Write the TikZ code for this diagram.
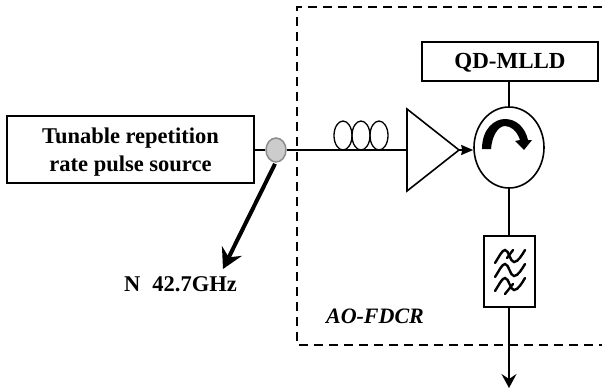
\documentclass[tikz,border=0pt]{standalone}
\usepackage{fontspec}
\setmainfont{Liberation Serif}
\usetikzlibrary{arrows.meta,shapes.geometric}

\tikzset{
    labelbox/.style={draw, line width=1.9pt, inner sep=0pt, align=center, font=\fontsize{22.5}{28}\selectfont\bfseries},
    coil/.style={draw, ellipse, line width=1.3pt, minimum width=18pt, minimum height=29pt, inner sep=0pt},
    fiber/.style={line width=1.5pt},
}

\begin{document}
\begin{tikzpicture}[x=1pt, y=-1pt]
    \useasboundingbox (0,0) rectangle (602,389);

    % AO-FDCR frame
    \draw[dashed, line width=1.6pt, dash pattern=on 9pt off 6pt] (602,7) -- (297,7) -- (297,345) -- (602,345);
    \node[font=\fontsize{22}{24}\selectfont\bfseries\itshape] (frame) at (375,316) {AO-FDCR};

    \node[labelbox, minimum width=247pt, minimum height=67pt] (source) at (130.5,149.5) {\rule{0pt}{21pt}Tunable repetition\\rate pulse source};
    \node[labelbox, minimum width=176pt, minimum height=39pt, font=\fontsize{23}{25}\selectfont\bfseries] (mlld) at (510,61.5) {\rule{0pt}{18pt}QD-MLLD};

    \node[draw=black!45, fill=black!20, ellipse, line width=1.5pt, minimum width=20pt, minimum height=24pt, inner sep=0pt] (tap) at (276,150) {};

    \node[coil] (coila) at (343,135.5) {};
    \node[coil] (coilb) at (361,135.5) {};
    \node[coil] (coilc) at (379,135.5) {};

    % amplifier
    \coordinate (ampa) at (407,109);
    \coordinate (ampb) at (407,191);
    \coordinate (amptip) at (459,150);
    \coordinate (ampin) at (407,150);
    \draw[line width=1.6pt, line join=miter] (ampa) -- (amptip) -- (ampb) -- cycle;

    \node[draw, ellipse, line width=1.6pt, minimum width=70pt, minimum height=81pt, inner sep=0pt] (circ) at (509,147.5) {};
    \node[draw, line width=1.9pt, minimum width=51pt, minimum height=71pt, inner sep=0pt] (filter) at (509.5,271.5) {};
    \coordinate (out) at (509,388);
    \node[font=\fontsize{22.5}{24}\selectfont\bfseries] (rate) at (180.5,284) {N\hspace{12pt}42.7GHz};
    \coordinate (ratetip) at (223,269);

    \draw[fiber] (source.east |- tap) -- (tap);
    \draw[fiber] (tap) -- (ampin);
    \draw[-{Stealth[length=12pt,width=10pt,inset=1pt]}, fiber] (amptip) -- (circ.west |- amptip);
    \draw[fiber] (mlld.south -| circ.north) -- (circ.north);
    \draw[fiber] (circ.south) -- (circ.south |- filter.north);
    \draw[fiber, -{Stealth[length=14pt,width=15pt,inset=5pt]}] (filter.south -| out) -- (out);
    \draw[line width=4pt, -{Stealth[length=20pt,width=22pt,inset=7pt]}] (tap.south) ++(-1,1) -- (ratetip);

    % direction mark in the circulator
    \fill (482,149) .. controls (482,128) and (495,119) .. (505,119)
        .. controls (516,119) and (525,127) .. (528,140)
        -- (532,140) -- (524,150) -- (515,141) -- (520,140)
        .. controls (517,131) and (511,126) .. (505,126)
        .. controls (498,126) and (492,136) .. (491,149) -- cycle;

    % filter waves
    \foreach \y in {0,14,28} {
        \draw[line width=2.4pt, line cap=round] (495,{263+\y}) .. controls (499,{257+\y}) and (502,{250+\y}) .. (505,{250+\y})
            .. controls (509,{250+\y}) and (510,{262+\y}) .. (514,{262+\y})
            .. controls (518,{262+\y}) and (522,{255+\y}) .. (525,{250+\y});
    }
    \draw[line width=2.4pt, line cap=round] (507,258) -- (513,250);
    \draw[line width=2.4pt, line cap=round] (505,294) -- (513,284);
\end{tikzpicture}
\end{document}
